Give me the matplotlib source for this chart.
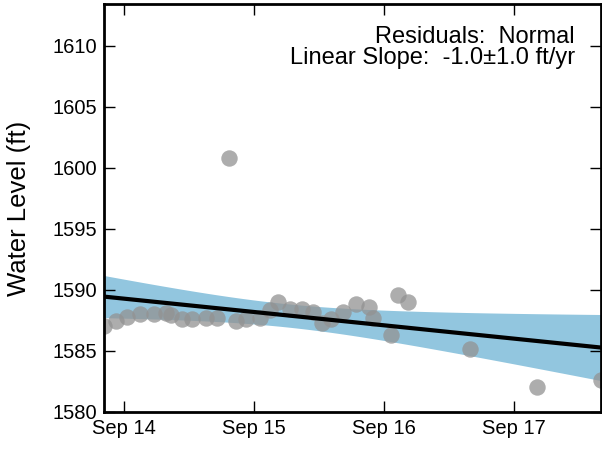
import numpy as np
import matplotlib
matplotlib.use("Agg")
import matplotlib.pyplot as plt
import matplotlib.dates as mdates
import pandas as pd

plt.rcParams['font.family'] = ['Liberation Sans', 'DejaVu Sans']

dates = ["2014-07-07", "2014-08-10", "2014-09-10", "2014-10-17", "2014-11-25",
         "2014-12-29", "2015-01-12", "2015-02-12", "2015-03-12", "2015-04-20",
         "2015-05-19", "2015-06-24", "2015-07-14", "2015-08-11", "2015-09-17",
         "2015-10-15", "2015-11-09", "2015-12-10", "2016-01-13", "2016-02-13",
         "2016-03-09", "2016-04-06", "2016-05-07", "2016-06-13", "2016-07-20",
         "2016-08-02", "2016-09-19", "2016-10-11", "2016-11-06", "2017-04-29",
         "2017-11-04", "2018-05-03"]
levels = [1587.0, 1587.4, 1587.8, 1588.0, 1588.0,
          1588.1, 1587.9, 1587.6, 1587.6, 1587.7,
          1587.7, 1600.8, 1587.4, 1587.6, 1587.7,
          1588.3, 1589.0, 1588.4, 1588.4, 1588.2,
          1587.3, 1587.6, 1588.2, 1588.8, 1588.6,
          1587.7, 1586.3, 1589.6, 1589.0, 1585.1,
          1582.0, 1582.6]
yticks = [1580, 1585, 1590, 1595, 1600, 1605, 1610]
xtick_dates = ["2014-09-01", "2015-09-01", "2016-09-01", "2017-09-01"]
ci_level_t = 2.0

t = pd.to_datetime(dates)
x = mdates.date2num(t)
y = np.array(levels)

# linear fit + confidence band
xm = x.mean()
X = x - xm
coef = np.polyfit(X, y, 1)
yhat = np.polyval(coef, X)
n = len(x)
s = np.sqrt(np.sum((y - yhat) ** 2) / (n - 2))
xx = np.linspace(x.min(), x.max(), 200)
XX = xx - xm
fit = np.polyval(coef, XX)
se = s * np.sqrt(1.0 / n + XX ** 2 / np.sum(X ** 2))
lo = fit - ci_level_t * se
hi = fit + ci_level_t * se

fig = plt.figure(figsize=(6.02, 4.5), dpi=100)
ax = fig.add_axes([0.173, 0.085, 0.825, 0.906])

ax.fill_between(xx, lo, hi, color='#92C6DF', lw=0, zorder=1)
ax.scatter(x, y, s=140, color='#929292', alpha=0.75, lw=0, zorder=2)
ax.plot(xx, fit, color='black', lw=3, zorder=3)

ax.set_xlim(x.min(), x.max())
ax.set_ylim(1580, 1613.4)
ax.set_yticks(yticks)
ax.set_xticks(mdates.date2num(pd.to_datetime(xtick_dates)))
ax.xaxis.set_major_formatter(mdates.DateFormatter('%b %y'))
ax.tick_params(direction='in', length=8, width=1, top=True, right=True,
               labelsize=14.5, pad=5)
for sp in ax.spines.values():
    sp.set_linewidth(2)
ax.set_ylabel('Water Level (ft)', fontsize=18.5, va='center')
ax.yaxis.set_label_coords(-0.172, 0.5)

ax.text(0.948, 0.904, 'Residuals:  Normal', transform=ax.transAxes,
        ha='right', va='baseline', fontsize=17)
ax.text(0.948, 0.852, 'Linear Slope:  -1.0\u00b11.0 ft/yr', transform=ax.transAxes,
        ha='right', va='baseline', fontsize=17)

fig.savefig('out.png', dpi=100)
